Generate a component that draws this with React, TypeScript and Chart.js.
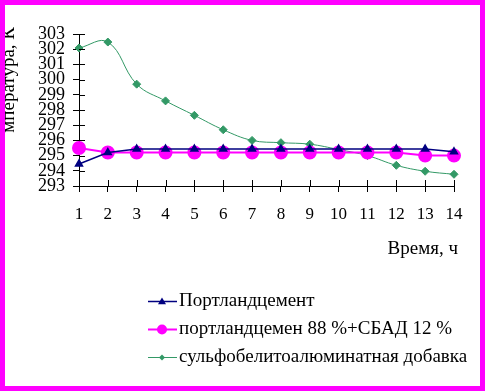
import React, { useEffect, useRef } from "react";
import { Chart, registerables } from "chart.js";

Chart.register(...registerables);

const hours = ["1", "2", "3", "4", "5", "6", "7", "8", "9", "10", "11", "12", "13", "14"];
const portland = [294.45, 295.2, 295.43, 295.43, 295.43, 295.43, 295.43, 295.43, 295.43, 295.43, 295.43, 295.43, 295.43, 295.25];
const portlandSbad = [295.5, 295.2, 295.2, 295.2, 295.2, 295.2, 295.2, 295.2, 295.2, 295.2, 295.2, 295.2, 295.0, 295.0];
const sulfo = [302.08, 302.47, 299.7, 298.6, 297.65, 296.7, 296.0, 295.85, 295.75, 295.4, 295.0, 294.36, 293.97, 293.77];
const seriesNames = ["Портландцемент", "портландцемен 88 %+СБАД 12 %", "сульфобелитоалюминатная добавка"];
const yTitle = "мпература, К";
const xTitle = "Время, ч";

const FONT = "'Liberation Serif', 'Times New Roman', serif";

const extras = {
  id: "extras",
  afterDraw(chart: any) {
    const ctx = chart.ctx;
    const xs = chart.scales.x;
    const ys = chart.scales.y;
    const area = chart.chartArea;
    ctx.save();
    ctx.strokeStyle = "#000";
    ctx.lineWidth = 1;
    ctx.beginPath();
    ys.ticks.forEach((_t: any, i: number) => {
      const y = Math.round(ys.getPixelForTick(i)) + 0.5;
      ctx.moveTo(area.left, y);
      ctx.lineTo(area.left + 6, y);
    });
    xs.ticks.forEach((_t: any, i: number) => {
      const x = Math.round(xs.getPixelForTick(i)) + 0.5;
      ctx.moveTo(x, area.bottom);
      ctx.lineTo(x, area.bottom - 6);
    });
    ctx.stroke();

    ctx.fillStyle = "#000";
    ctx.font = `19px ${FONT}`;
    ctx.textAlign = "right";
    ctx.textBaseline = "middle";
    ctx.fillText(xTitle, 458, 249);

    ctx.save();
    ctx.translate(14, 27);
    ctx.rotate(-Math.PI / 2);
    ctx.textAlign = "right";
    ctx.textBaseline = "alphabetic";
    ctx.fillText(yTitle, 0, 0);
    ctx.restore();

    const rows = [301, 329, 357];
    chart.data.datasets.forEach((ds: any, i: number) => {
      const y = rows[i];
      ctx.strokeStyle = ds.borderColor;
      ctx.lineWidth = ds.borderWidth;
      ctx.beginPath();
      ctx.moveTo(148, y + 0.5);
      ctx.lineTo(177, y + 0.5);
      ctx.stroke();
      const r = ds.legendRadius;
      ctx.fillStyle = ds.pointBackgroundColor;
      const cx = 162;
      const cy = y + 0.5;
      ctx.beginPath();
      if (ds.pointStyle === "triangle") {
        ctx.moveTo(cx, cy - r);
        ctx.lineTo(cx + r, cy + r * 0.7);
        ctx.lineTo(cx - r, cy + r * 0.7);
        ctx.closePath();
      } else if (ds.pointStyle === "rectRot") {
        ctx.moveTo(cx, cy - r);
        ctx.lineTo(cx + r, cy);
        ctx.lineTo(cx, cy + r);
        ctx.lineTo(cx - r, cy);
        ctx.closePath();
      } else {
        ctx.arc(cx, cy, r, 0, Math.PI * 2);
      }
      ctx.fill();
      ctx.fillStyle = "#000";
      ctx.font = `19px ${FONT}`;
      ctx.textAlign = "left";
      ctx.textBaseline = "middle";
      ctx.fillText(ds.label, 179, y);
    });
    ctx.restore();
  },
};

export default function App() {
  const ref = useRef<HTMLCanvasElement>(null);
  useEffect(() => {
    document.body.style.margin = "0";
    const chart = new Chart(ref.current!, {
      type: "line",
      data: {
        labels: hours,
        datasets: [
          {
            label: seriesNames[0],
            data: portland,
            borderColor: "#000080",
            backgroundColor: "#000080",
            pointBackgroundColor: "#000080",
            pointBorderColor: "#000080",
            borderWidth: 1.5,
            pointStyle: "triangle",
            pointRadius: 4,
            tension: 0,
            legendRadius: 4,
          } as any,
          {
            label: seriesNames[1],
            data: portlandSbad,
            borderColor: "#FF00FF",
            backgroundColor: "#FF00FF",
            pointBackgroundColor: "#FF00FF",
            pointBorderColor: "#FF00FF",
            borderWidth: 2,
            pointStyle: "circle",
            pointRadius: 6,
            tension: 0,
            legendRadius: 5,
          } as any,
          {
            label: seriesNames[2],
            data: sulfo,
            borderColor: "#339966",
            backgroundColor: "#339966",
            pointBackgroundColor: "#339966",
            pointBorderColor: "#339966",
            borderWidth: 1,
            pointStyle: "rectRot",
            pointRadius: 4,
            tension: 0.4,
            legendRadius: 3,
          } as any,
        ],
      },
      options: {
        animation: false,
        responsive: false,
        events: [],
        layout: { padding: { left: 10, top: 34, right: 32, bottom: 0 } },
        plugins: { legend: { display: false }, tooltip: { enabled: false } },
        scales: {
          x: {
            type: "category",
            offset: false,
            grid: { display: true, drawOnChartArea: false, drawTicks: true, tickLength: 6, color: "#000" },
            border: { display: true, color: "#000", width: 1 },
            ticks: { color: "#000", font: { family: FONT, size: 17 }, padding: 12, maxRotation: 0, autoSkip: false },
            afterFit: (s: any) => { s.height = 206; },
          },
          y: {
            min: 293,
            max: 303,
            grid: { display: true, drawOnChartArea: false, drawTicks: true, tickLength: 6, color: "#000" },
            border: { display: true, color: "#000", width: 1 },
            ticks: { stepSize: 1, color: "#000", font: { family: FONT, size: 18 }, padding: 8, autoSkip: false },
            afterFit: (s: any) => { s.width = 69; },
          },
        },
      },
      plugins: [extras],
    });
    return () => chart.destroy();
  }, []);
  return (
    <div style={{ position: "relative", width: 486, height: 392, background: "#fff" }}>
      <canvas ref={ref} width={486} height={392} style={{ display: "block" }} />
      <div
        style={{
          position: "absolute",
          left: 0,
          top: 0,
          width: 485,
          height: 391,
          boxSizing: "border-box",
          border: "5px solid #FF00FF",
          pointerEvents: "none",
        }}
      />
    </div>
  );
}
